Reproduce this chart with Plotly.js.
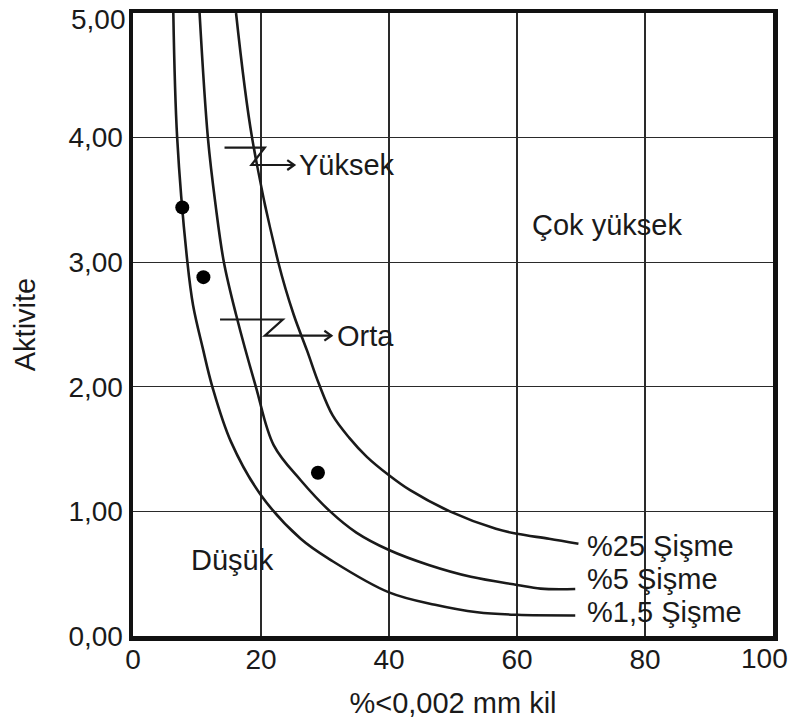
<!DOCTYPE html>
<html>
<head>
<meta charset="utf-8">
<script src="https://cdn.plot.ly/plotly-3.0.1.min.js"></script>
<style>html,body{margin:0;padding:0;background:#fff;}#chart{width:789px;height:727px;}</style>
</head>
<body>
<div id="chart"></div>
<script>
// %1,5 Şişme curve
var curve15X = [6.3, 6.9, 8.5, 9.4, 10.9, 12.4, 15.3, 20.0, 26.2, 31.2, 40.0, 47.2, 53.8, 60.0, 69.1];
var curve15Y = [5.0, 4.0, 3.0, 2.65, 2.31, 2.0, 1.56, 1.13, 0.78, 0.60, 0.35, 0.25, 0.19, 0.17, 0.165];
// %5 Şişme curve
var curve5X = [10.4, 11.7, 12.9, 14.2, 16.1, 19.2, 22.0, 26.2, 30.8, 34.9, 40.0, 46.2, 52.8, 60.0, 63.7, 69.1];
var curve5Y = [5.0, 4.0, 3.46, 3.0, 2.58, 2.0, 1.53, 1.25, 1.0, 0.83, 0.69, 0.57, 0.475, 0.41, 0.38, 0.377];
// %25 Şişme curve
var curve25X = [16.1, 18.6, 22.7, 25.1, 27.2, 29.0, 31.2, 33.8, 36.5, 40.0, 43.3, 49.5, 56.7, 60.0, 65.0, 69.6];
var curve25Y = [5.0, 4.0, 3.0, 2.58, 2.29, 2.03, 1.77, 1.59, 1.44, 1.29, 1.17, 1.0, 0.86, 0.82, 0.78, 0.74];
// sample points
var pointsX = [7.7, 11.0, 28.9];
var pointsY = [3.44, 2.88, 1.31];

var xTickVals = [0, 20, 40, 60, 80, 100];
var xTickText = ["0", "20", "40", "60", "80", "100"];
var yTickVals = [0, 1, 2, 3, 4, 5];
var yTickText = ["0,00", "1,00", "2,00", "3,00", "4,00", "5,00"];

var curveLabels = ["%25 Şişme", "%5 Şişme", "%1,5 Şişme"];
var curveLabelY = [0.72, 0.46, 0.19];
var zoneLabels = ["Çok yüksek", "Düşük"];
var zoneX = [74.1, 15.6];
var zoneY = [3.30, 0.61];
var arrowLabels = ["Yüksek", "Orta"];
// Z-arrow corner points: [x1,x2,x3,x4], [yTop, yBottom]
var arrowZX = [[14.3, 20.6, 18.5, 25.2], [13.6, 23.4, 20.6, 31.0]];
var arrowZY = [[3.92, 3.78], [2.54, 2.41]];

var FONT = '"Liberation Sans", Arial, Helvetica, sans-serif';
var INK = '#1a1a1a';
var TICK_SIZE = 28;
var lineStyle = {color: INK, width: 2.6, shape: 'spline', smoothing: 1};

var traces = [
  {x: curve15X, y: curve15Y, mode: 'lines', line: lineStyle, hoverinfo: 'skip', name: '%1,5 Şişme'},
  {x: curve5X, y: curve5Y, mode: 'lines', line: lineStyle, hoverinfo: 'skip', name: '%5 Şişme'},
  {x: curve25X, y: curve25Y, mode: 'lines', line: lineStyle, hoverinfo: 'skip', name: '%25 Şişme'},
  {x: pointsX, y: pointsY, mode: 'markers', marker: {color: '#000', size: 14}, name: 'Numune'}
];

var annotations = [];
for (var i = 0; i < curveLabels.length; i++) {
  annotations.push({x: 70.6, y: curveLabelY[i], xref: 'x', yref: 'y', text: curveLabels[i],
    showarrow: false, xanchor: 'left', yanchor: 'middle', font: {family: FONT, size: 29, color: INK}});
}
for (var j = 0; j < zoneLabels.length; j++) {
  annotations.push({x: zoneX[j], y: zoneY[j], xref: 'x', yref: 'y', text: zoneLabels[j],
    showarrow: false, xanchor: 'center', yanchor: 'middle', font: {family: FONT, size: 29, color: INK}});
}
var shapes = [];
for (var k = 0; k < arrowLabels.length; k++) {
  var zx = arrowZX[k], zy = arrowZY[k];
  shapes.push({type: 'path', xref: 'x', yref: 'y',
    path: 'M' + zx[0] + ',' + zy[0] + ' L' + zx[1] + ',' + zy[0] + ' L' + zx[2] + ',' + zy[1] + ' L' + zx[3] + ',' + zy[1],
    line: {color: INK, width: 2.2}});
  var dx = 1.1, dy = 0.04;
  shapes.push({type: 'path', xref: 'x', yref: 'y',
    path: 'M' + (zx[3] - dx) + ',' + (zy[1] + dy) + ' L' + zx[3] + ',' + zy[1] + ' L' + (zx[3] - dx) + ',' + (zy[1] - dy),
    line: {color: INK, width: 2.2}});
  annotations.push({x: zx[3] + 0.5, y: zy[1], xref: 'x', yref: 'y', text: arrowLabels[k],
    showarrow: false, xanchor: 'left', yanchor: 'middle', font: {family: FONT, size: 29, color: INK}});
}
// edge tick labels (would be clipped at the page edge, so placed as in the reference)
var lastX = xTickVals.length - 1, lastY = yTickVals.length - 1;
annotations.push({x: xTickVals[lastX], y: 0, xref: 'x', yref: 'paper', text: xTickText[lastX],
  showarrow: false, xanchor: 'center', yanchor: 'top', xshift: -9, yshift: -5,
  font: {family: FONT, size: TICK_SIZE, color: INK}});
annotations.push({x: 0, y: yTickVals[lastY], xref: 'paper', yref: 'y', text: yTickText[lastY],
  showarrow: false, xanchor: 'right', yanchor: 'middle', xshift: -5, yshift: -6,
  font: {family: FONT, size: TICK_SIZE, color: INK}});

var layout = {
  width: 789, height: 727,
  margin: {l: 133, r: 16, t: 13, b: 91},
  paper_bgcolor: '#fff', plot_bgcolor: '#fff',
  showlegend: false,
  font: {family: FONT, color: INK},
  xaxis: {
    range: [0, 100], tickvals: xTickVals.slice(0, lastX), ticktext: xTickText.slice(0, lastX),
    showgrid: true, gridcolor: '#2a2a2a', gridwidth: 1.2, zeroline: false,
    showline: true, linecolor: '#111', linewidth: 4.5, mirror: true,
    ticks: '', ticklabelstandoff: -5,
    tickfont: {family: FONT, size: TICK_SIZE, color: INK},
    title: {text: '%<0,002 mm kil', font: {family: FONT, size: 29, color: INK}, standoff: 20},
    fixedrange: true
  },
  yaxis: {
    range: [0, 5], tickvals: yTickVals.slice(0, lastY), ticktext: yTickText.slice(0, lastY),
    showgrid: true, gridcolor: '#2a2a2a', gridwidth: 1.2, zeroline: false,
    showline: true, linecolor: '#111', linewidth: 4.5, mirror: true,
    ticks: '', ticklabelstandoff: 0,
    tickfont: {family: FONT, size: TICK_SIZE, color: INK},
    title: {text: 'Aktivite', font: {family: FONT, size: 29, color: INK}, standoff: 26},
    fixedrange: true
  },
  annotations: annotations,
  shapes: shapes
};

Plotly.newPlot('chart', traces, layout, {staticPlot: true, displayModeBar: false});
</script>
</body>
</html>
